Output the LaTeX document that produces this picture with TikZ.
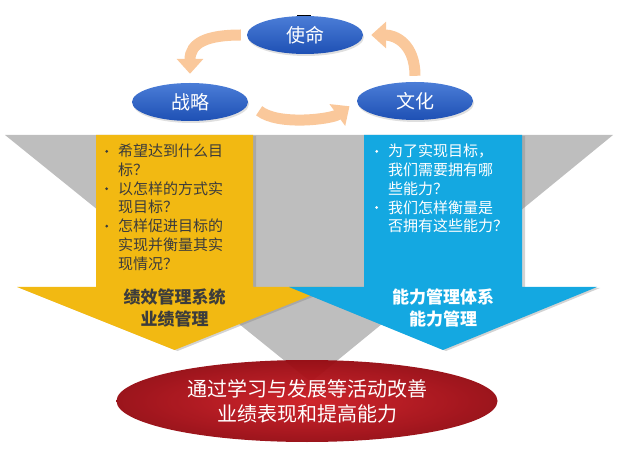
\documentclass[tikz,border=0pt]{standalone}
\usepackage{fontspec}
\setmainfont{Noto Sans CJK SC}
\usepackage{tikz}
\usetikzlibrary{%
	shapes.geometric,%
	arrows.meta,%
	shadows
}
\definecolor{peach}{RGB}{250,200,155}
\definecolor{ellblueA}{RGB}{75,125,215}
\definecolor{ellblueB}{RGB}{30,80,180}
\definecolor{goldarrow}{RGB}{242,185,18}
\definecolor{skyarrow}{RGB}{20,168,225}
\definecolor{funnelgray}{RGB}{190,190,190}
\definecolor{redA}{RGB}{205,25,32}
\definecolor{redB}{RGB}{150,8,16}
\definecolor{darktext}{RGB}{60,60,60}
\newcommand{\bul}{\makebox[13pt][l]{\raisebox{4pt}{\tikz\fill (0,0) circle (1.5pt);}}}
\newcommand{\ind}{\hspace*{13pt}}

\begin{document}
\begin{tikzpicture}[x=1pt,y=-1pt,
		topell/.style={ellipse,minimum width=116pt,minimum height=38pt,inner sep=0pt,
			top color=ellblueA,bottom color=ellblueB,text=white,
			font=\fontsize{19}{22}\selectfont,
			drop shadow={shadow xshift=1pt,shadow yshift=-2pt,opacity=.25}},
		cyclearrow/.style={peach,line width=11pt,-{Triangle[width=26pt,length=15pt]}},
		boxshadow/.style={drop shadow={shadow xshift=3pt,shadow yshift=-1pt,opacity=.35}},
		listtext/.style={anchor=north west,inner sep=0pt,align=left,
			font=\fontsize{15}{18.7}\selectfont},
		labeltext/.style={inner sep=0pt,align=center,
			font=\fontsize{17}{22}\selectfont\bfseries}]
	\useasboundingbox (0,0) rectangle (619,465);
	
	% Funnel
	\fill[funnelgray] (5,135) -- (613,135) -- (311,382) -- cycle;
	
	% Yellow arrow
	\fill[goldarrow,boxshadow] (96,135) -- (253,135) -- (253,287) -- (332,287)
		-- (174.5,350) -- (17,287) -- (96,287) -- cycle;
	% Blue arrow
	\fill[skyarrow,boxshadow] (364,135) -- (522,135) -- (522,287) -- (597,287)
		-- (443,350) -- (289,287) -- (364,287) -- cycle;
	
	\node[listtext,text=darktext] (goalq) at (105,144) {%
		\bul 希望达到什么目\\
		\ind 标？\\
		\bul 以怎样的方式实\\
		\ind 现目标？\\
		\bul 怎样促进目标的\\
		\ind 实现并衡量其实\\
		\ind 现情况？};
	\node[listtext,text=white] (abilityq) at (375,144) {%
		\bul 为了实现目标，\\
		\ind 我们需要拥有哪\\
		\ind 些能力？\\
		\bul 我们怎样衡量是\\
		\ind 否拥有这些能力？};
	
	\node[labeltext,text=darktext] (perf) at (174.5,308) {绩效管理系统\\业绩管理};
	\node[labeltext,text=white] (compet) at (443,308) {能力管理体系\\能力管理};
	
	% Result
	\node[ellipse,minimum width=381pt,minimum height=82pt,inner sep=0pt,
		inner color=redA,outer color=redB,fill opacity=.95,text opacity=1,
		text=white,align=center,font=\fontsize{20}{25}\selectfont] (result)
		at (307,401) {通过学习与发展等活动改善\\业绩表现和提高能力};
	
	% Cycle
	\draw[line width=1.5pt] (297,15.5) -- (311,15.5);
	\node[topell] (mission) at (305,35) {使命};
	\node[topell] (strategy) at (190,102) {战略};
	\node[topell] (culture) at (415,101) {文化};
	
	\draw[cyclearrow,shorten <=6pt,shorten >=9pt] (mission.west)
		.. controls +(-40,0) and +(0,-40) .. (strategy.north);
	\draw[cyclearrow,shorten <=14pt,shorten >=9pt] (strategy.east)
		.. controls +(30,24) and +(-25,18) .. (culture.west);
	\draw[cyclearrow,shorten <=6pt,shorten >=8pt] (culture.north)
		.. controls +(0,-38) and +(32,0) .. (mission.east);
\end{tikzpicture}
\end{document}
